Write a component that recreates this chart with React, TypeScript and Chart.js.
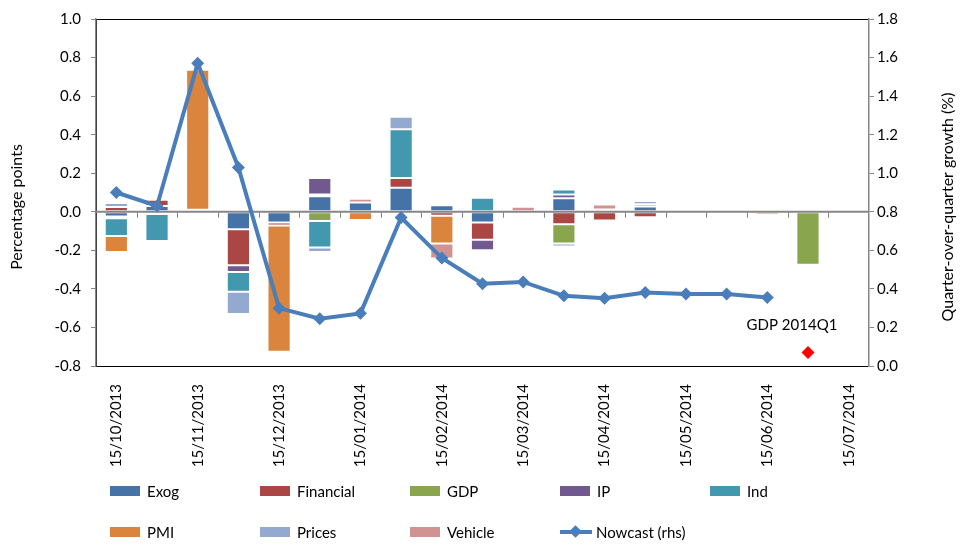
import { useEffect, useRef } from "react"
import { Chart, registerables } from "chart.js"

Chart.register(...registerables)

const FONT = "Lato, 'Open Sans', sans-serif"

const categories = [
  "15/10/2013", "", "15/11/2013", "", "15/12/2013", "", "15/01/2014", "", "15/02/2014", "",
  "15/03/2014", "", "15/04/2014", "", "15/05/2014", "", "15/06/2014", "", "15/07/2014",
]

// contributions (percentage points, lhs)
const exog = [-0.025, 0.03, 0.005, -0.09, -0.056, 0.08, 0.048, 0.125, 0.034, -0.055, 0, 0.07, 0.012, 0.027, 0, -0.004, 0, 0, 0]
const financial = [0.025, 0.033, 0.005, -0.188, -0.015, 0.009, 0, 0.05, -0.02, -0.09, -0.012, -0.065, -0.045, -0.028, 0, 0, 0, 0, 0]
const gdp = [-0.008, 0, 0, 0, 0, -0.048, 0, 0, 0, 0, 0, -0.1, 0, 0, 0, 0, 0, -0.275, 0]
const ip = [0, -0.012, 0, -0.034, 0, 0.086, 0, 0, 0, -0.055, 0, 0.02, 0, 0.012, 0, 0.006, 0, 0, 0]
const ind = [-0.092, -0.14, 0, -0.103, 0, -0.137, 0, 0.253, 0, 0.073, 0, 0.026, 0, 0, 0, 0, 0, 0, 0]
const pmi = [-0.083, 0, 0.727, 0, -0.655, 0, -0.043, 0, -0.145, 0, 0, 0, -0.01, 0, 0, 0, 0, 0, 0]
const prices = [0.02, 0.01, 0, -0.115, 0, -0.024, 0, 0.065, 0, -0.008, 0, -0.015, 0, 0.017, 0, 0, 0, 0, 0]
const vehicle = [0.005, 0, 0, 0, 0, 0, 0.019, 0, -0.077, 0, 0.026, 0, 0.026, 0, 0, 0, -0.015, 0, 0]

// nowcast (rhs, %)
const nowcast = [0.9, 0.83, 1.57, 1.03, 0.3, 0.245, 0.273, 0.77, 0.56, 0.427, 0.436, 0.364, 0.352, 0.381, 0.374, 0.373, 0.355, null, null]
const gdpOutturn = [null, null, null, null, null, null, null, null, null, null, null, null, null, null, null, null, null, 0.07, null]
const gdpLabel = "GDP 2014Q1"

const seriesNames = ["Exog", "Financial", "GDP", "IP", "Ind", "PMI", "Prices", "Vehicle"]
const seriesData = [exog, financial, gdp, ip, ind, pmi, prices, vehicle]
const seriesColors = ["#4572A7", "#AA4643", "#89A54E", "#71588F", "#4198AF", "#DB843D", "#93A9CF", "#D19392"]
const lineColor = "#4A7EBB"

const axisGray = "#868686"

const decorPlugin = {
  id: "decor",
  beforeDraw(chart) {
    const { ctx, chartArea: a } = chart
    ctx.save()
    ctx.fillStyle = "#fff"
    ctx.fillRect(0, 0, chart.width, chart.height)
    ctx.strokeStyle = "#000"
    ctx.lineWidth = 1
    ctx.strokeRect(a.left + 0.5, a.top + 0.5, a.right - a.left - 1, a.bottom - a.top)
    ctx.restore()
  },
  afterDatasetDraw(chart, args) {
    if (args.index !== 0) return
    const { ctx, chartArea: a } = chart
    const xs = chart.scales.x
    const y0 = chart.scales.y.getPixelForValue(0)
    ctx.save()
    ctx.strokeStyle = axisGray
    ctx.lineWidth = 2
    ctx.beginPath()
    ctx.moveTo(a.left, y0)
    ctx.lineTo(a.right, y0)
    ctx.stroke()
    ctx.lineWidth = 1
    ctx.beginPath()
    for (let i = 1; i < categories.length; i++) {
      const bx = Math.round((xs.getPixelForValue(i - 1) + xs.getPixelForValue(i)) / 2) + 0.5
      ctx.moveTo(bx, y0)
      ctx.lineTo(bx, y0 + 6)
    }
    ctx.stroke()
    ctx.restore()
  },
  afterDraw(chart) {
    const { ctx, chartArea: a } = chart
    ctx.save()
    ctx.fillStyle = "#000"
    ctx.font = `16px ${FONT}`
    ctx.textAlign = "center"
    ctx.textBaseline = "middle"
    const cy = 207
    ctx.translate(17, cy)
    ctx.rotate(-Math.PI / 2)
    ctx.fillText("Percentage points", 0, 0)
    ctx.setTransform(1, 0, 0, 1, 0, 0)
    ctx.restore()

    ctx.save()
    ctx.fillStyle = "#000"
    ctx.font = `16px ${FONT}`
    ctx.textAlign = "center"
    ctx.textBaseline = "middle"
    ctx.translate(948, cy)
    ctx.rotate(-Math.PI / 2)
    ctx.fillText("Quarter-over-quarter growth (%)", 0, 0)
    ctx.restore()

    // label for the GDP outturn point
    const meta = chart.getDatasetMeta(9)
    const idx = gdpOutturn.findIndex((v) => v !== null)
    const el = meta.data[idx]
    if (el) {
      ctx.save()
      ctx.fillStyle = "#000"
      ctx.font = `15px ${FONT}`
      ctx.textAlign = "center"
      ctx.textBaseline = "middle"
      ctx.fillText(gdpLabel, el.x - 16, el.y - 27)
      ctx.restore()
    }
  },
}

export default function App() {
  const canvasRef = useRef<HTMLCanvasElement>(null)

  useEffect(() => {
    document.body.style.margin = "0"
    if (!canvasRef.current) return

    const barSets = seriesNames.map((name, i) => ({
      type: "bar" as const,
      label: name,
      data: seriesData[i],
      backgroundColor: seriesColors[i],
      borderColor: "rgba(255,255,255,0.55)",
      borderWidth: (c) => (c.raw ? 1 : 0),
      borderSkipped: false,
      yAxisID: "y",
      order: 1,
      barPercentage: 0.57,
      categoryPercentage: 1,
    }))

    const chart = new Chart(canvasRef.current, {
      type: "bar",
      data: {
        labels: categories,
        datasets: [
          ...barSets,
          {
            type: "line",
            label: "Nowcast (rhs)",
            data: nowcast,
            yAxisID: "y1",
            borderColor: lineColor,
            backgroundColor: lineColor,
            borderWidth: 4,
            pointStyle: "rectRot",
            pointRadius: 6.5,
            pointBorderWidth: 0,
            tension: 0,
            spanGaps: false,
            order: 0,
          },
          {
            type: "line",
            label: gdpLabel,
            data: gdpOutturn,
            yAxisID: "y1",
            showLine: false,
            borderColor: "#FF0000",
            backgroundColor: "#FF0000",
            pointStyle: "rectRot",
            pointRadius: 6.5,
            pointBorderWidth: 0,
            order: 0,
          },
        ],
      },
      options: {
        responsive: false,
        maintainAspectRatio: false,
        animation: false,
        layout: { padding: { top: 15, left: 0, right: 0, bottom: 0 } },
        plugins: {
          legend: { display: false },
          tooltip: { enabled: false },
        },
        scales: {
          x: {
            stacked: true,
            grid: { display: false },
            border: { display: false },
            ticks: {
              autoSkip: false,
              minRotation: 90,
              maxRotation: 90,
              padding: 10,
              color: "#000",
              font: { family: FONT, size: 15 },
            },
            afterFit: (s) => {
              s.height = 545 - 366
            },
          },
          y: {
            stacked: true,
            position: "left",
            min: -0.8,
            max: 1.0,
            grid: { drawOnChartArea: false, drawTicks: true, tickLength: 5, color: axisGray },
            border: { display: true, color: axisGray, width: 1.5 },
            ticks: {
              stepSize: 0.2,
              padding: 10,
              color: "#000",
              font: { family: FONT, size: 15 },
              callback: (v) => Number(v).toFixed(1),
            },
            afterFit: (s) => {
              s.width = 96
            },
          },
          y1: {
            stacked: false,
            position: "right",
            min: 0,
            max: 1.8,
            grid: { drawOnChartArea: false, drawTicks: true, tickLength: 5, color: axisGray },
            border: { display: true, color: axisGray, width: 1.5 },
            ticks: {
              stepSize: 0.2,
              padding: 3,
              color: "#000",
              font: { family: FONT, size: 15 },
              callback: (v) => Number(v).toFixed(1),
            },
            afterFit: (s) => {
              s.width = 961 - 869
            },
          },
        },
      },
      plugins: [decorPlugin],
    })

    return () => chart.destroy()
  }, [])

  const legendItems = [
    ...seriesNames.map((name, i) => ({ name, color: seriesColors[i], line: false })),
    { name: "Nowcast (rhs)", color: lineColor, line: true },
  ]

  return (
    <div style={{ position: "relative", width: 961, height: 545, fontFamily: FONT, background: "#fff" }}>
      <canvas ref={canvasRef} width={961} height={545} style={{ display: "block", width: 961, height: 545 }} />
      {legendItems.map((item, i) => {
        const col = i % 5
        const row = Math.floor(i / 5)
        return (
          <div
            key={item.name}
            style={{
              position: "absolute",
              left: 110 + col * 150,
              top: 491 + row * 41 - 10,
              height: 20,
              display: "flex",
              alignItems: "center",
              fontSize: 15,
              color: "#000",
              whiteSpace: "nowrap",
            }}
          >
            {item.line ? (
              <span style={{ position: "relative", width: 32, height: 20, display: "inline-block", marginRight: 4 }}>
                <span style={{ position: "absolute", left: 0, top: 8, width: 32, height: 4, background: item.color }} />
                <span
                  style={{
                    position: "absolute",
                    left: 11,
                    top: 5,
                    width: 9,
                    height: 9,
                    background: item.color,
                    transform: "rotate(45deg)",
                  }}
                />
              </span>
            ) : (
              <span style={{ width: 30, height: 10, background: item.color, display: "inline-block", marginRight: 7 }} />
            )}
            <span>{item.name}</span>
          </div>
        )
      })}
    </div>
  )
}
